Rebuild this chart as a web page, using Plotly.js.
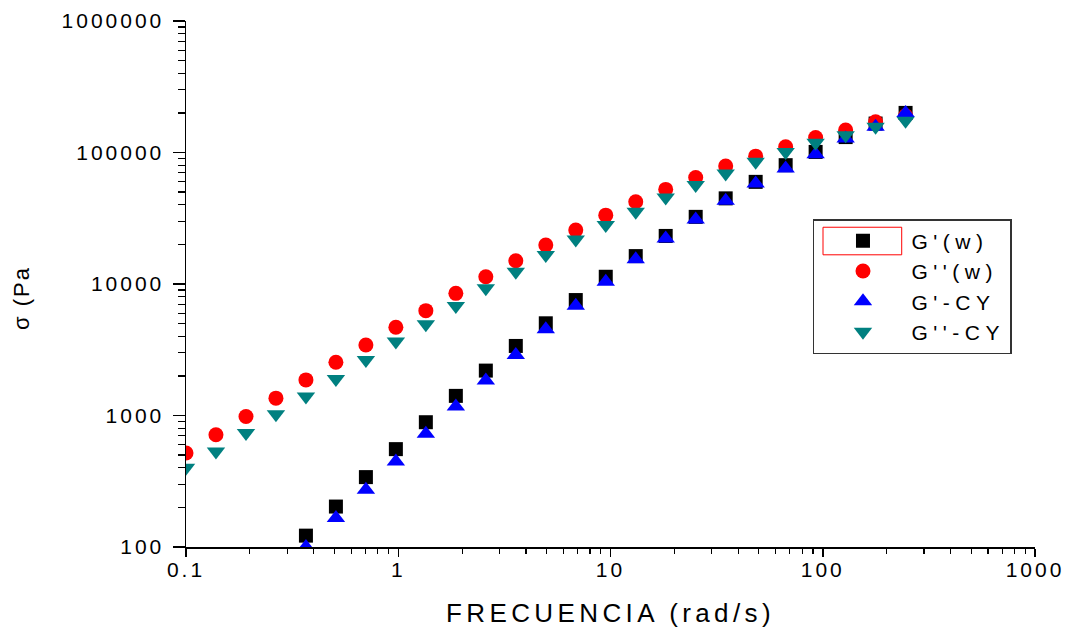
<!DOCTYPE html>
<html>
<head>
<meta charset="utf-8">
<script src="https://cdn.plot.ly/plotly-3.0.1.min.js"></script>
<style>
html, body { margin: 0; padding: 0; background: #fff; }
#chart { width: 1069px; height: 632px; }
.xtick text, .ytick text { letter-spacing: 3px; }
.g-xtitle text { letter-spacing: 4.4px; }
.annotation-text { letter-spacing: 2px; }
.legendtext { letter-spacing: 5.5px; }
</style>
</head>
<body>
<div id="chart"></div>
<script>
// Angular frequency (rad/s)
const freq = [0.1, 0.1384, 0.1917, 0.2653, 0.3673, 0.5085, 0.704, 0.9745, 1.349, 1.868,
              2.586, 3.58, 4.956, 6.861, 9.499, 13.15, 18.2, 25.2, 34.89, 48.3,
              66.87, 92.57, 128.2, 177.4, 245.6];

// G'(w) – black squares
const gPrimeW = [null, null, null, null, 122, 203, 340, 555, 889, 1410,
                 2195, 3380, 5025, 7550, 11350, 16300, 23200, 32400, 44800, 59800,
                 80100, 101000, 131000, 166000, 200000];

// G''(w) – red circles
const gDoublePrimeW = [518, 713, 982, 1355, 1866, 2543, 3440, 4690, 6270, 8490,
                       11350, 15030, 19780, 25700, 33400, 42200, 52400, 64600, 78800, 93800,
                       110400, 130000, 148000, 171000, 190000];

// G'-CY – blue up-triangles
const gPrimeCY = [null, null, null, null, 100, 166, 272, 447, 726, 1170,
                  1845, 2890, 4530, 6840, 10400, 15400, 22200, 31000, 42900, 58200,
                  75700, 97100, 128000, 157000, 200000];

// G''-CY – teal down-triangles
const gDoublePrimeCY = [400, 532, 735, 1023, 1394, 1897, 2647, 3650, 4940, 6810,
                        9270, 12400, 16600, 21800, 28100, 35400, 45500, 56500, 69300, 85000,
                        101000, 118600, 135500, 156700, 174000];

const seriesNames = ["G'(w)", "G''(w)", "G'-CY", "G''-CY"];

const xTickVals = [0.1, 1, 10, 100, 1000];
const xTickText = ["0.1", "1", "10", "100", "1000"];
const yTickVals = [100, 1000, 10000, 100000, 1000000];
const yTickText = ["100", "1000", "10000", "100000", "1000000"];

const xTitle = 'FRECUENCIA (rad/s)';
const yTitle = 'σ (Pa';

function minorLog(lo, hi) {
  const out = [];
  for (let d = lo; d < hi; d *= 10) {
    for (let k = 2; k <= 9; k++) out.push(+(d * k).toPrecision(3));
  }
  return out;
}

const font = "Liberation Sans, Arial, sans-serif";

const traces = [
  { x: freq, y: gPrimeW, name: seriesNames[0], type: 'scatter', mode: 'markers',
    marker: { symbol: 'square', size: 14, color: '#000000' } },
  { x: freq, y: gDoublePrimeW, name: seriesNames[1], type: 'scatter', mode: 'markers',
    marker: { symbol: 'circle', size: 15, color: '#ff0000' } },
  { x: freq, y: gPrimeCY, name: seriesNames[2], type: 'scatter', mode: 'markers',
    marker: { symbol: 'triangle-up', size: 16, color: '#0000ff' } },
  { x: freq, y: gDoublePrimeCY, name: seriesNames[3], type: 'scatter', mode: 'markers',
    marker: { symbol: 'triangle-down', size: 16, color: '#008080' } }
];

const layout = {
  width: 1069, height: 632,
  paper_bgcolor: '#ffffff', plot_bgcolor: '#ffffff',
  margin: { l: 186, r: 34, t: 21, b: 85 },
  font: { family: font, color: '#000' },
  showlegend: true,
  xaxis: {
    type: 'log', range: [-1, 3], autorange: false,
    showgrid: false, zeroline: false,
    showline: true, linecolor: '#000', linewidth: 1.5, mirror: false,
    ticks: 'outside', ticklen: 8, tickwidth: 1.5, tickcolor: '#000',
    tickmode: 'array', tickvals: xTickVals, ticktext: xTickText,
    tickfont: { family: font, size: 21, color: '#000' },
    ticklabelstandoff: -5,
    minor: { tickmode: 'array', tickvals: minorLog(0.1, 1000), ticks: 'outside', ticklen: 5, tickwidth: 1.2, tickcolor: '#000', showgrid: false },
    title: { text: xTitle, font: { family: font, size: 26, color: '#000' }, standoff: 24 },
    automargin: false
  },
  yaxis: {
    type: 'log', range: [2, 6], autorange: false,
    showgrid: false, zeroline: false,
    showline: true, linecolor: '#000', linewidth: 1.5, mirror: false,
    ticks: 'outside', ticklen: 12, tickwidth: 1.5, tickcolor: '#000',
    tickmode: 'array', tickvals: yTickVals, ticktext: yTickText,
    tickfont: { family: font, size: 21, color: '#000' },
    ticklabelstandoff: 4,
    minor: { tickmode: 'array', tickvals: minorLog(100, 1000000), ticks: 'outside', ticklen: 7, tickwidth: 1.2, tickcolor: '#000', showgrid: false },
    automargin: false
  },
  annotations: [
    { text: yTitle, xref: 'paper', yref: 'paper', x: 0, y: 0.4734, xshift: -164,
      xanchor: 'center', yanchor: 'middle', textangle: -90, showarrow: false,
      font: { family: font, size: 22, color: '#000' } }
  ],
  legend: {
    x: 0.7385, y: 0.6234, xanchor: 'left', yanchor: 'top',
    bgcolor: 'rgba(255,255,255,0)', bordercolor: '#333333', borderwidth: 1.5,
    font: { family: font, size: 21, color: '#000' },
    itemwidth: 87, tracegroupgap: 0
  },
  shapes: [
    { type: 'rect', xref: 'paper', yref: 'paper', x0: 0.7503, x1: 0.843, y0: 0.5555, y1: 0.6079,
      line: { color: '#ff0000', width: 1 }, fillcolor: 'rgba(0,0,0,0)', layer: 'above' }
  ]
};

Plotly.newPlot('chart', traces, layout, { displayModeBar: false, staticPlot: true });
</script>
</body>
</html>
